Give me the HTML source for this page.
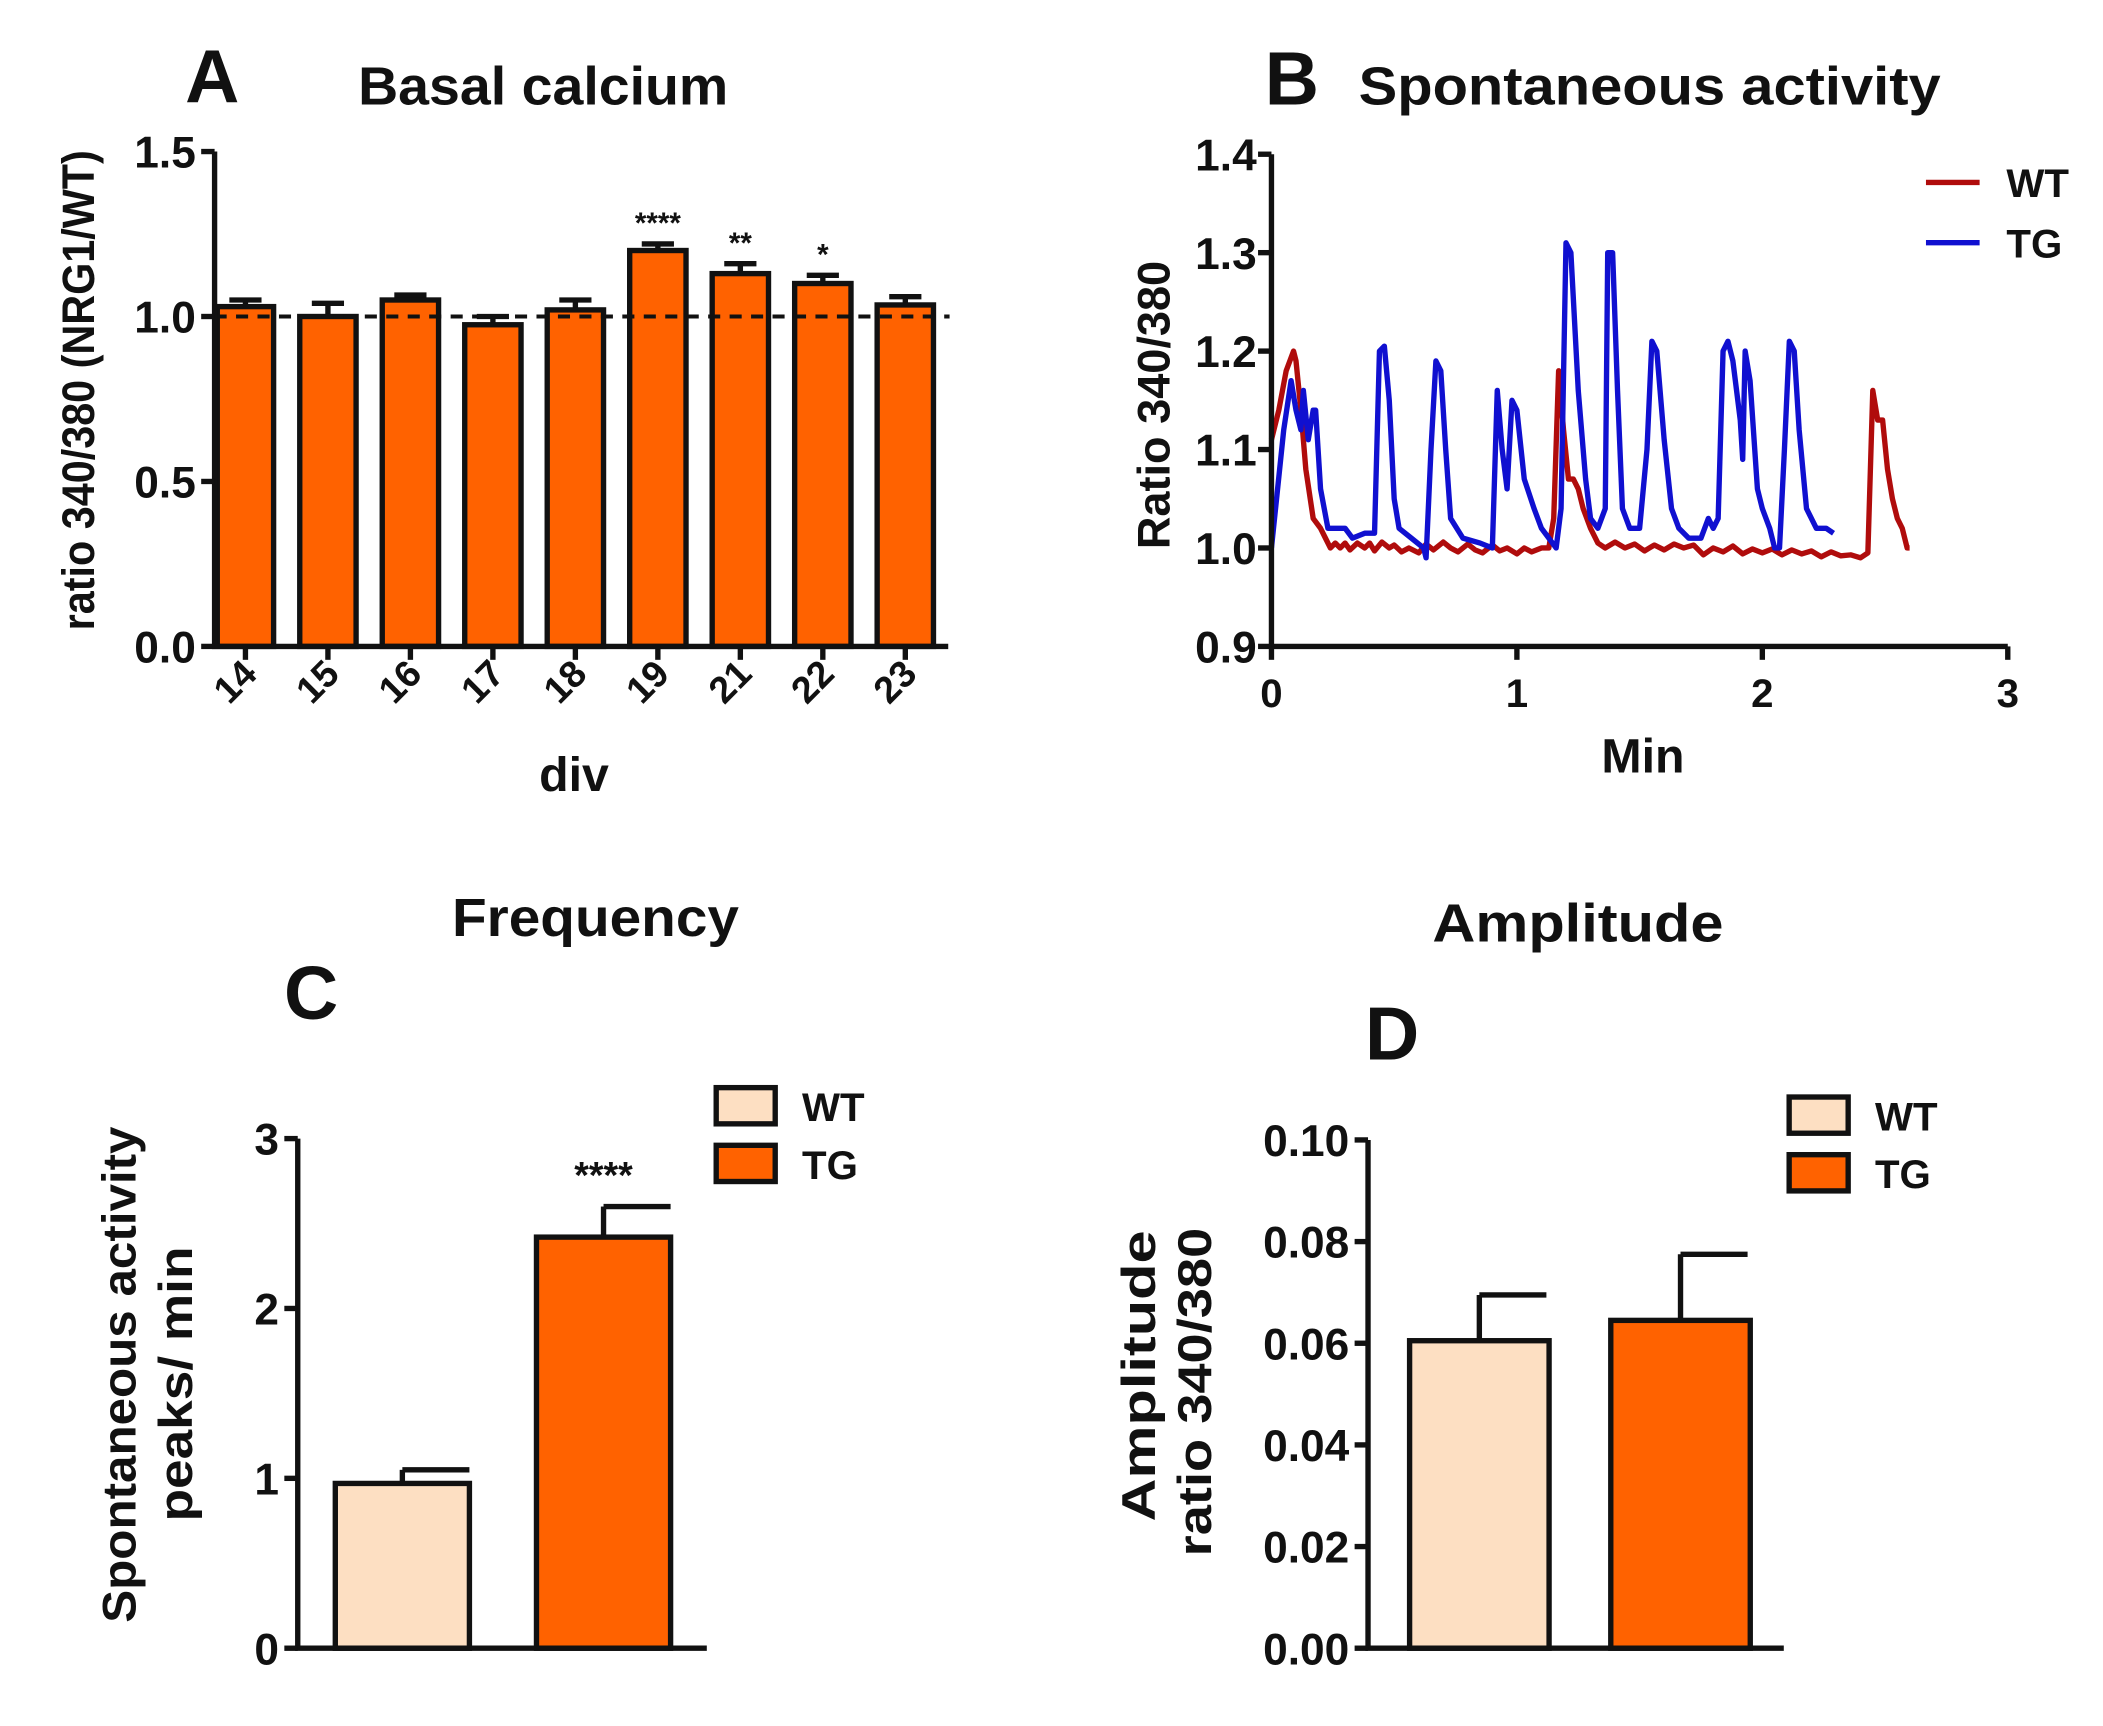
<!DOCTYPE html>
<html><head><meta charset="utf-8"><style>
html,body{margin:0;padding:0;background:#fff}
svg{display:block}
text{font-family:"Liberation Sans",sans-serif;font-weight:bold;fill:#111}
</style></head><body>
<svg id="fig" width="2103" height="1726" viewBox="0 0 1568 1287" preserveAspectRatio="none" xmlns="http://www.w3.org/2000/svg">
<g id="pA"></g>
<g id="pB"></g>
<g id="pC"></g>
<g id="pD"></g>
</svg>
<script>
// Panel A data
const aCategories = ["14","15","16","17","18","19","21","22","23"];
const aValues = [1.03,1.00,1.05,0.975,1.02,1.20,1.13,1.10,1.035];
const aErrors = [0.02,0.04,0.015,0.025,0.03,0.02,0.03,0.025,0.025];
const aStars = ["","","","","","****","**","*",""];
const aTicks = [0.0,0.5,1.0,1.5];
const aTickLabels = ["0.0","0.5","1.0","1.5"];
// Panel B data
const bWT_t = [0,0.03,0.06,0.09,0.1,0.12,0.14,0.17,0.2,0.22,0.24,0.26,0.28,0.3,0.32,0.35,0.38,0.4,0.42,0.45,0.48,0.5,0.53,0.56,0.6,0.63,0.66,0.7,0.73,0.76,0.8,0.83,0.86,0.9,0.93,0.96,1.0,1.03,1.06,1.1,1.13,1.15,1.17,1.19,1.21,1.23,1.25,1.27,1.3,1.33,1.36,1.4,1.44,1.48,1.52,1.56,1.6,1.64,1.68,1.72,1.76,1.8,1.84,1.88,1.92,1.96,2.0,2.04,2.08,2.12,2.16,2.2,2.24,2.28,2.32,2.36,2.4,2.43,2.45,2.47,2.49,2.51,2.53,2.55,2.57,2.59,2.6];
const bWT_y = [1.11,1.14,1.18,1.20,1.19,1.14,1.08,1.03,1.02,1.01,1.0,1.005,1.0,1.005,0.998,1.005,1.0,1.005,0.997,1.006,1.0,1.003,0.996,1.0,0.995,1.004,0.998,1.006,1.0,0.996,1.004,0.998,0.995,1.003,0.997,1.0,0.994,1.0,0.996,1.0,1.0,1.03,1.18,1.12,1.07,1.07,1.06,1.04,1.02,1.005,1.0,1.006,1.0,1.004,0.997,1.003,0.998,1.004,1.0,1.003,0.993,1.0,0.996,1.002,0.994,0.999,0.995,0.999,0.993,0.998,0.994,0.997,0.991,0.996,0.992,0.993,0.99,0.995,1.16,1.13,1.13,1.08,1.05,1.03,1.02,1.0,1.0];
const bTG_t = [0,0.05,0.08,0.1,0.12,0.13,0.15,0.17,0.18,0.2,0.23,0.27,0.3,0.33,0.38,0.42,0.44,0.46,0.48,0.5,0.52,0.57,0.62,0.63,0.65,0.67,0.69,0.71,0.73,0.78,0.85,0.9,0.92,0.94,0.96,0.98,1.0,1.03,1.07,1.1,1.13,1.16,1.18,1.2,1.22,1.25,1.28,1.3,1.33,1.36,1.37,1.39,1.41,1.43,1.46,1.5,1.53,1.55,1.57,1.6,1.63,1.66,1.7,1.75,1.78,1.8,1.82,1.84,1.86,1.88,1.91,1.92,1.93,1.95,1.98,2.0,2.03,2.05,2.07,2.09,2.11,2.13,2.15,2.18,2.22,2.26,2.29];
const bTG_y = [1.0,1.12,1.17,1.14,1.12,1.16,1.11,1.14,1.14,1.06,1.02,1.02,1.02,1.01,1.015,1.015,1.2,1.205,1.15,1.05,1.02,1.01,1.0,0.99,1.1,1.19,1.18,1.1,1.03,1.01,1.005,1.0,1.16,1.1,1.06,1.15,1.14,1.07,1.04,1.02,1.01,1.0,1.04,1.31,1.30,1.16,1.07,1.03,1.02,1.04,1.30,1.30,1.16,1.04,1.02,1.02,1.1,1.21,1.20,1.11,1.04,1.02,1.01,1.01,1.03,1.02,1.03,1.2,1.21,1.19,1.13,1.09,1.2,1.17,1.06,1.04,1.02,1.0,1.0,1.1,1.21,1.2,1.12,1.04,1.02,1.02,1.015];
const bYTicks = [0.9,1.0,1.1,1.2,1.3,1.4];
const bYTickLabels = ["0.9","1.0","1.1","1.2","1.3","1.4"];
const bXTicks = [0,1,2,3];
const bXTickLabels = ["0","1","2","3"];
// Panel C data
const cGroups = ["WT","TG"];
const cValues = [0.97,2.42];
const cErrors = [0.08,0.18];
const cTicks = [0,1,2,3];
const cTickLabels = ["0","1","2","3"];
// Panel D data
const dGroups = ["WT","TG"];
const dValues = [0.0605,0.0645];
const dErrors = [0.009,0.013];
const dTicks = [0,0.02,0.04,0.06,0.08,0.10];
const dTickLabels = ["0.00","0.02","0.04","0.06","0.08","0.10"];

const NS="http://www.w3.org/2000/svg";
function mk(parent,tag,attrs,txt){const e=document.createElementNS(NS,tag);for(const k in attrs)e.setAttribute(k,attrs[k]);if(txt!==undefined)e.textContent=txt;parent.appendChild(e);return e;}
const ORANGE="#FF6200", PEACH="#FDDFC2";
const TF=33;

// ---------- Panel A ----------
(function(){
const g=document.getElementById('pA');
const y=v=>482-(v/1.5)*369;
const x=i=>183+i*61.5;
let t=mk(g,'text',{x:138,y:76,'font-size':56},'A');

t=mk(g,'text',{x:267,y:78,'font-size':40,textLength:276,lengthAdjust:'spacingAndGlyphs'},'Basal calcium');

aValues.forEach((v,i)=>{
  const cx=x(i),w=42;
  const e=mk(g,'line',{x1:cx,x2:cx,y1:y(v),y2:y(v+aErrors[i]),stroke:'#111','stroke-width':4});
  
  const c=mk(g,'line',{x1:cx-12,x2:cx+12,y1:y(v+aErrors[i]),y2:y(v+aErrors[i]),stroke:'#111','stroke-width':4});
  
  const r=mk(g,'rect',{x:cx-w/2,y:y(v),width:w,height:y(0)-y(v),fill:ORANGE,stroke:'#111','stroke-width':4});
  
  if(aStars[i]){const s=mk(g,'text',{x:cx,y:y(v+aErrors[i])-8,'font-size':22,'font-weight':'normal','text-anchor':'middle'},aStars[i]);
    }
  const tk=mk(g,'line',{x1:cx,x2:cx,y1:482,y2:492,stroke:'#111','stroke-width':4});
  
  const lb=mk(g,'text',{x:cx+10,y:504,'font-size':28,'text-anchor':'end',transform:`rotate(-45 ${cx+10} 504)`},aCategories[i]);
  
});
let d=mk(g,'line',{x1:160,x2:708,y1:y(1),y2:y(1),stroke:'#111','stroke-width':3,'stroke-dasharray':'9,7'});

let ax=mk(g,'path',{d:`M160 ${y(1.5)} V482 H707`,stroke:'#111','stroke-width':4,fill:'none'});

aTicks.forEach((v,i)=>{
  const tk=mk(g,'line',{x1:150,x2:160,y1:y(v),y2:y(v),stroke:'#111','stroke-width':4});
  
  const lb=mk(g,'text',{x:146,y:y(v)+12,'font-size':TF,'text-anchor':'end'},aTickLabels[i]);
  
});
t=mk(g,'text',{x:428,y:590,'font-size':36,'text-anchor':'middle'},'div');

t=mk(g,'text',{x:0,y:0,'font-size':34,'text-anchor':'middle',textLength:358,lengthAdjust:'spacingAndGlyphs',transform:'translate(70 291) rotate(-90)'},'ratio 340/380 (NRG1/WT)');

})();

// ---------- Panel B ----------
(function(){
const g=document.getElementById('pB');
const y=v=>482-((v-0.9)/0.5)*367;
const x=v=>948+v*183;
let t=mk(g,'text',{x:943,y:78,'font-size':56},'B');

t=mk(g,'text',{x:1013,y:78,'font-size':40,textLength:434,lengthAdjust:'spacingAndGlyphs'},'Spontaneous activity');

const wt=mk(g,'polyline',{points:bWT_t.map((v,i)=>x(v)+','+y(bWT_y[i])).join(' '),fill:'none',stroke:'#B00C0C','stroke-width':4,'stroke-linejoin':'round'});

const tg=mk(g,'polyline',{points:bTG_t.map((v,i)=>x(v)+','+y(bTG_y[i])).join(' '),fill:'none',stroke:'#1010D0','stroke-width':4,'stroke-linejoin':'round'});

let ax=mk(g,'path',{d:`M948 ${y(1.4)} V482 H1497`,stroke:'#111','stroke-width':4,fill:'none'});

bYTicks.forEach((v,i)=>{
  const tk=mk(g,'line',{x1:938,x2:948,y1:y(v),y2:y(v),stroke:'#111','stroke-width':4});
  
  const lb=mk(g,'text',{x:937,y:y(v)+12,'font-size':TF,'text-anchor':'end'},bYTickLabels[i]);
  
});
bXTicks.forEach((v,i)=>{
  const tk=mk(g,'line',{x1:x(v),x2:x(v),y1:482,y2:492,stroke:'#111','stroke-width':4});
  
  const lb=mk(g,'text',{x:x(v),y:527,'font-size':30,'text-anchor':'middle'},bXTickLabels[i]);
  
});
t=mk(g,'text',{x:1225,y:576,'font-size':36,'text-anchor':'middle'},'Min');

t=mk(g,'text',{x:0,y:0,'font-size':34,'text-anchor':'middle',textLength:215,lengthAdjust:'spacingAndGlyphs',transform:'translate(872 302) rotate(-90)'},'Ratio 340/380');

[['WT','#B00C0C',136],['TG','#1010D0',181]].forEach(([n,c,yy])=>{
  const l=mk(g,'line',{x1:1436,x2:1476,y1:yy,y2:yy,stroke:c,'stroke-width':4});
  
  const tx=mk(g,'text',{x:1496,y:yy+11,'font-size':30,'font-weight':'normal'},n);
  
});
})();

// ---------- Bar panel helper (C/D) ----------
function barPanel(g,opts){
  const y=v=>opts.y0-(v/opts.ymax)*(opts.y0-opts.ytop);
  let t=mk(g,'text',{x:opts.titleX,y:opts.titleY,'font-size':40,textLength:opts.titleLen,lengthAdjust:'spacingAndGlyphs'},opts.title);
  
  t=mk(g,'text',{x:opts.letterX,y:opts.letterY,'font-size':56,'text-anchor':'middle'},opts.letter);
  
  opts.values.forEach((v,i)=>{
    const xl=opts.barX[i],w=opts.barW,cx=xl+w/2,top=y(v+opts.errors[i]);
    const e=mk(g,'line',{x1:cx,x2:cx,y1:y(v),y2:top,stroke:'#111','stroke-width':4});
    
    const c=mk(g,'line',{x1:cx,x2:cx+50,y1:top,y2:top,stroke:'#111','stroke-width':4});
    
    const r=mk(g,'rect',{x:xl,y:y(v),width:w,height:y(0)-y(v),fill:i?ORANGE:PEACH,stroke:'#111','stroke-width':4});
    
    if(opts.stars&&opts.stars[i]){const s=mk(g,'text',{x:cx,y:top-14,'font-size':28,'font-weight':'normal','text-anchor':'middle'},opts.stars[i]);
      }
  });
  let ax=mk(g,'path',{d:`M${opts.x0} ${opts.ytop} V${opts.y0} H${opts.x1}`,stroke:'#111','stroke-width':4,fill:'none'});
  
  opts.ticks.forEach((v,i)=>{
    const tk=mk(g,'line',{x1:opts.x0-10,x2:opts.x0,y1:y(v),y2:y(v),stroke:'#111','stroke-width':4});
    
    const lb=mk(g,'text',{x:opts.x0-14,y:y(v)+12,'font-size':TF,'text-anchor':'end'},opts.tickLabels[i]);
    
  });
  opts.yTitle.forEach((s,i)=>{
    const tx=mk(g,'text',{x:0,y:0,'font-size':35,'text-anchor':'middle',textLength:opts.yTitleLen[i],lengthAdjust:'spacingAndGlyphs',transform:`translate(${opts.yTitleX[i]} ${opts.yTitleY[i]}) rotate(-90)`},s);
    
  });
  opts.groups.forEach((n,i)=>{
    const yy=opts.legY+i*43;
    const r=mk(g,'rect',{x:opts.legX,y:yy,width:44,height:27,fill:i?ORANGE:PEACH,stroke:'#111','stroke-width':4});
    
    const tx=mk(g,'text',{x:opts.legX+64,y:yy+25,'font-size':30,'font-weight':'normal'},n);
    
  });
}
barPanel(document.getElementById('pC'),{key:'panel-c',title:'Frequency',titleX:337,titleY:698,titleLen:214,letter:'C',letterX:232,letterY:760,
  groups:cGroups,values:cValues,errors:cErrors,stars:["","****"],ticks:cTicks,tickLabels:cTickLabels,ymax:3,
  x0:222,x1:527,y0:1229,ytop:849,barX:[250,400],barW:100,yTitle:['Spontaneous activity','peaks/ min'],yTitleX:[101,143],yTitleY:[1025,1032],yTitleLen:[370,205],
  legX:534,legY:811});
barPanel(document.getElementById('pD'),{key:'panel-d',title:'Amplitude',titleX:1068,titleY:702,titleLen:217,letter:'D',letterX:1038,letterY:790,
  groups:dGroups,values:dValues,errors:dErrors,ticks:dTicks,tickLabels:dTickLabels,ymax:0.10,
  x0:1020,x1:1330,y0:1229,ytop:850,barX:[1051,1201],barW:104,yTitle:['Amplitude','ratio 340/380'],yTitleX:[861,903],yTitleY:[1026,1038],yTitleLen:[217,245],
  legX:1334,legY:818});
</script>
</body></html>
